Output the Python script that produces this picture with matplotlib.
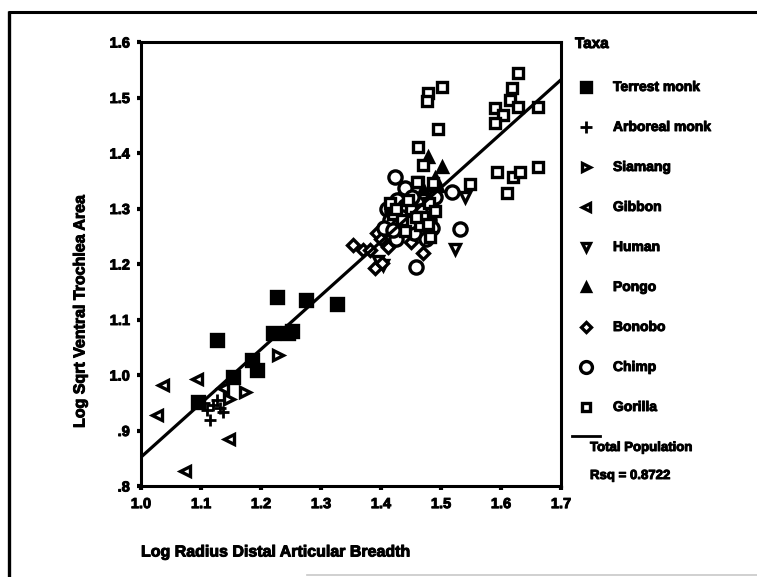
import numpy as np
from matplotlib import pyplot as plt
from matplotlib import ticker
from matplotlib import patheffects

plt.rcParams['font.family'] = ['Liberation Sans', 'DejaVu Sans']
plt.rcParams['font.weight'] = 'bold'

# log radius distal articular breadth (x) / log sqrt ventral trochlea area (y)
terrest_x = [1.227, 1.275, 1.327, 1.127, 1.220, 1.252, 1.185, 1.193, 1.153, 1.095, 1.245]
terrest_y = [1.141, 1.135, 1.128, 1.063, 1.076, 1.079, 1.027, 1.009, 0.996, 0.951, 1.075]

arboreal_x = [1.115, 1.120, 1.132, 1.110, 1.137, 1.127, 1.105]
arboreal_y = [0.919, 0.946, 0.940, 0.937, 0.933, 0.955, 0.950]

siamang_x = [1.228, 1.173, 1.147]
siamang_y = [1.036, 0.969, 0.957]

gibbon_x = [1.037, 1.093, 1.027, 1.147, 1.073, 1.137]
gibbon_y = [0.982, 0.993, 0.928, 0.885, 0.827, 0.977]

human_x = [1.523, 1.540, 1.403, 1.460, 1.480, 1.395]
human_y = [1.227, 1.320, 1.198, 1.290, 1.325, 1.205]

pongo_x = [1.478, 1.502, 1.490, 1.470, 1.495, 1.430, 1.450]
pongo_y = [1.393, 1.375, 1.355, 1.335, 1.340, 1.320, 1.325]

bonobo_x = [1.353, 1.370, 1.382, 1.393, 1.412, 1.390, 1.470, 1.410, 1.420, 1.400,
            1.430, 1.450, 1.460, 1.402, 1.418, 1.438]
bonobo_y = [1.234, 1.225, 1.225, 1.256, 1.231, 1.193, 1.220, 1.250, 1.265, 1.245,
            1.255, 1.240, 1.265, 1.202, 1.275, 1.268]

chimp_x = [1.423, 1.440, 1.427, 1.518, 1.532, 1.458, 1.410, 1.415, 1.430, 1.445,
           1.460, 1.475, 1.480, 1.470, 1.455, 1.405, 1.440, 1.425, 1.485, 1.490,
           1.418, 1.435, 1.448, 1.465, 1.475, 1.420, 1.452]
chimp_y = [1.357, 1.337, 1.315, 1.330, 1.263, 1.195, 1.300, 1.280, 1.270, 1.290,
           1.310, 1.300, 1.280, 1.260, 1.255, 1.265, 1.305, 1.245, 1.265, 1.320,
           1.295, 1.285, 1.275, 1.295, 1.245, 1.262, 1.320]

gorilla_x = [1.628, 1.502, 1.478, 1.477, 1.618, 1.615, 1.628, 1.662, 1.590, 1.603,
             1.590, 1.495, 1.462, 1.470, 1.462, 1.548, 1.593, 1.620, 1.632, 1.662,
             1.610, 1.460, 1.487, 1.482, 1.420, 1.435, 1.450, 1.470, 1.480, 1.415,
             1.440, 1.465, 1.490, 1.425, 1.445, 1.478, 1.458]
gorilla_y = [1.544, 1.519, 1.508, 1.494, 1.517, 1.495, 1.483, 1.483, 1.481, 1.468,
             1.454, 1.443, 1.411, 1.378, 1.348, 1.344, 1.366, 1.357, 1.366, 1.375,
             1.328, 1.348, 1.346, 1.249, 1.290, 1.280, 1.300, 1.285, 1.310, 1.310,
             1.260, 1.270, 1.295, 1.300, 1.315, 1.272, 1.285]

# total population fit
fit_x = [1.0, 1.7]
fit_y = [0.852, 1.532]
rsq = 0.8722

x_ticks = [1.0, 1.1, 1.2, 1.3, 1.4, 1.5, 1.6, 1.7]
y_ticks = [0.8, 0.9, 1.0, 1.1, 1.2, 1.3, 1.4, 1.5, 1.6]
y_tick_labels = ['.8', '.9', '1.0', '1.1', '1.2', '1.3', '1.4', '1.5', '1.6']

taxa = ['Terrest monk', 'Arboreal monk', 'Siamang', 'Gibbon', 'Human',
        'Pongo', 'Bonobo', 'Chimp', 'Gorilla']
series = [(terrest_x, terrest_y), (arboreal_x, arboreal_y), (siamang_x, siamang_y),
          (gibbon_x, gibbon_y), (human_x, human_y), (pongo_x, pongo_y),
          (bonobo_x, bonobo_y), (chimp_x, chimp_y), (gorilla_x, gorilla_y)]

# marker, size, filled
styles = [('s', 8.5, True), ('+', 9, False), ('>', 6.5, False), ('<', 6.5, False),
          ('v', 6.5, False), ('^', 7, True), ('D', 6.2, False), ('o', 9.5, False),
          ('s', 6.8, False)]

heavy = [patheffects.withStroke(linewidth=0.7, foreground='black')]

W, H = 757, 577
fig = plt.figure(figsize=(W / 100, H / 100), dpi=100)
fig.patch.set_facecolor('white')

# plot area in pixels: x 141..561, y 42..486
ax = fig.add_axes([141 / W, 1 - 486 / H, 420 / W, 444 / H])

for (xs, ys), (mk, ms, filled) in zip(series, styles):
    ax.plot(xs, ys, linestyle='none', marker=mk, markersize=ms,
            markerfacecolor='black' if filled else 'white',
            markeredgecolor='black', markeredgewidth=2.4 if mk != '+' else 2.0,
            zorder=3)

ax.plot(fit_x, fit_y, color='black', linewidth=2.3, zorder=4)

ax.set_xlim(1.0, 1.7)
ax.set_ylim(0.8, 1.6)
ax.set_xticks(x_ticks)
ax.xaxis.set_major_formatter(ticker.FormatStrFormatter('%.1f'))
ax.set_yticks(y_ticks)
ax.set_yticklabels(y_tick_labels)
for s in ax.spines.values():
    s.set_linewidth(2.2)
ax.tick_params(direction='out', length=3, width=3, labelsize=10.5, pad=5)
for lbl in ax.get_xticklabels() + ax.get_yticklabels():
    lbl.set_fontweight('bold')
    lbl.set_path_effects(heavy)

# overlay in pixel coordinates for frame, titles and key
ov = fig.add_axes([0, 0, 1, 1], zorder=-1)
ov.set_xlim(0, W)
ov.set_ylim(H, 0)
ov.axis('off')
ov.plot([9, 9], [11, H], color='black', linewidth=2.4, solid_capstyle='butt')
ov.plot([8, W], [12, 12], color='black', linewidth=2.2, solid_capstyle='butt')
ov.plot([307, W], [575, 575], color='#c8c8c8', linewidth=1.2)

ov.text(80, 311, 'Log Sqrt Ventral Trochlea Area', rotation=90, ha='center',
        va='center', fontsize=11.5, fontweight='bold', path_effects=heavy)
ov.text(141, 552, 'Log Radius Distal Articular Breadth', ha='left', va='center',
        fontsize=11.5, fontweight='bold', path_effects=heavy)

key = fig.add_axes([0, 0, 1, 1])
key.set_xlim(0, W)
key.set_ylim(H, 0)
key.axis('off')
key.patch.set_alpha(0)
key.text(575, 44, 'Taxa', ha='left', va='center', fontsize=11, fontweight='bold',
         path_effects=heavy)
for i, (name, (mk, ms, filled)) in enumerate(zip(taxa, styles)):
    yy = 87 + 40 * i
    key.plot([586], [yy], linestyle='none', marker=mk, markersize=ms * 0.9,
             markerfacecolor='black' if filled else 'white',
             markeredgecolor='black', markeredgewidth=2.4 if mk != '+' else 2.0)
    key.text(613, yy, name, ha='left', va='center', fontsize=10, fontweight='bold',
             path_effects=heavy)
key.plot([572, 600], [436, 436], color='black', linewidth=2.0)
key.text(590, 448, 'Total Population', ha='left', va='center', fontsize=9.5,
         fontweight='bold', path_effects=heavy)
key.text(590, 476, 'Rsq = %.4f' % rsq, ha='left', va='center', fontsize=9.5,
         fontweight='bold', path_effects=heavy)

fig.savefig('out.png', dpi=100, facecolor='white')
